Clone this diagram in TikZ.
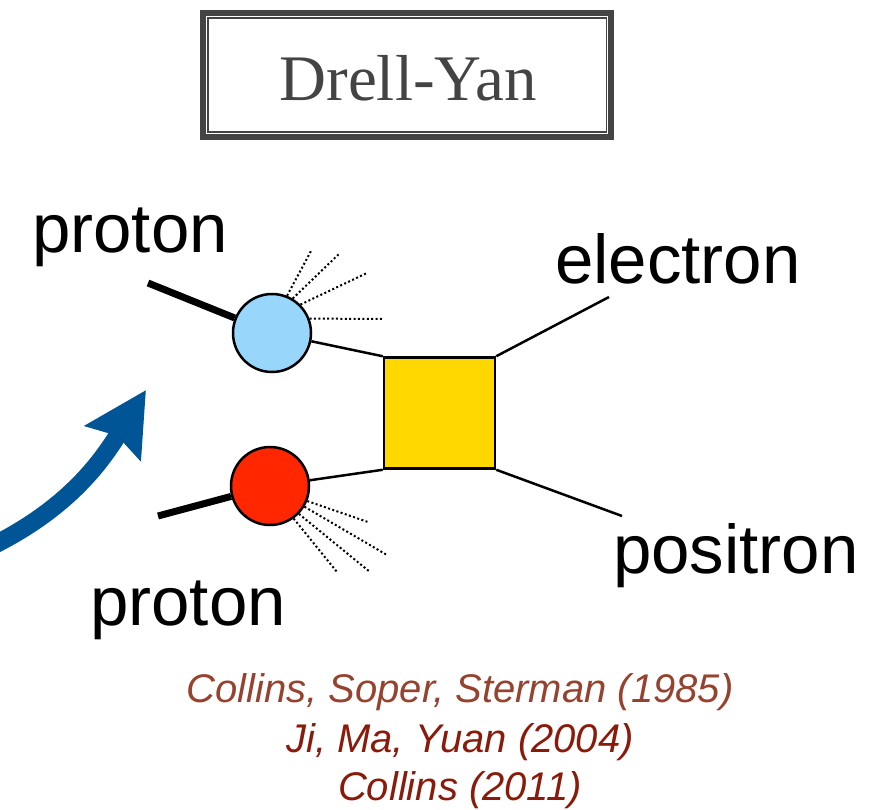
\documentclass[tikz,border=0pt]{standalone}
\usepackage{fontspec}
\setmainfont{Liberation Sans}
\newfontfamily\titlefont{Liberation Serif}
\usepackage{tikz}
\usetikzlibrary{arrows.meta}

\definecolor{framegray}{HTML}{444444}
\definecolor{quarkblue}{HTML}{99D6FC}
\definecolor{quarkred}{HTML}{FF2600}
\definecolor{hardyellow}{HTML}{FFD800}
\definecolor{arrowblue}{RGB}{0,85,150}
\definecolor{citebrown}{RGB}{150,66,46}
\definecolor{citered}{RGB}{138,26,10}

\tikzset{
	partlabel/.style={anchor=base west,inner sep=0pt,font=\fontsize{69}{69}\selectfont},
	citation/.style={anchor=base,inner sep=0pt,font=\fontsize{40}{40}\selectfont\itshape},
	blob/.style={circle,draw=black,line width=2.5pt,minimum size=78pt,inner sep=0pt},
	spray/.style={line width=2pt,dash pattern=on 2pt off 2.4pt}
}

\begin{document}
\begin{tikzpicture}[x=1pt,y=1pt]
		\useasboundingbox (0,0) rectangle (891,-809);
		% title with brush frame
		\draw[framegray,line width=6.5pt] (203,-13) rectangle (611,-137);
		\draw[framegray,line width=1.2pt] (208,-18) rectangle (606.5,-132);
		\node[anchor=base,inner sep=0pt,text=framegray,font=\titlefont\fontsize{65}{65}\selectfont] (title) at (408,-100) {Drell-Yan};
		% incoming protons
		\node[blob,fill=quarkblue] (pa) at (272,-333) {};
		\node[blob,fill=quarkred] (pb) at (270,-486) {};
		\coordinate (pain) at (148,-283);
		\coordinate (pbin) at (158,-516);
		\draw[line width=7pt] (pain) -- (pa);
		\draw[line width=7pt] (pbin) -- (pb);
		% hard part
		\node[draw=black,fill=hardyellow,line width=2.5pt,minimum size=111pt,inner sep=0pt] (hard) at (439.5,-413) {};
		\draw[line width=2.5pt] (pa) -- (hard.north west);
		\draw[line width=2.5pt] (pb) -- (hard.south west);
		\coordinate (eout) at (609,-297);
		\coordinate (pout) at (622,-516);
		\draw[line width=2.5pt] (hard.north east) -- (eout);
		\draw[line width=2.5pt] (hard.south east) -- (pout);
		% remnants
		\foreach \a/\x/\y in {68/311/-251,59/340/-253,45/367/-273}
			\draw[spray] (pa.\a) -- (\x,\y);
		\draw[spray] (pa.21) -- (383,-319);
		\foreach \a/\x/\y in {-22/368/-522,-31/387/-555,-44/370/-572,-54/337/-572}
			\draw[spray] (pb.\a) -- (\x,\y);
		% labels
		\node[partlabel] (protona) at (32,-252) {proton};
		\node[partlabel] (protonb) at (90,-625) {proton};
		\node[partlabel] (electron) at (555,-283) {electron};
		\node[partlabel] (positron) at (613,-573) {positron};
		% big arrow
		\draw[arrowblue,line width=18pt,-{Stealth[length=62pt,width=64pt,inset=8pt]}] (-12,-548) to[out=26,in=238] (146,-390);
		% references
		\node[citation,text=citebrown] (cite1) at (460,-702) {Collins, Soper, Sterman (1985)};
		\node[citation,text=citered] (cite2) at (460,-752) {Ji, Ma, Yuan (2004)};
		\node[citation,text=citered] (cite3) at (460,-800) {Collins (2011)};
	\end{tikzpicture}
\end{document}
